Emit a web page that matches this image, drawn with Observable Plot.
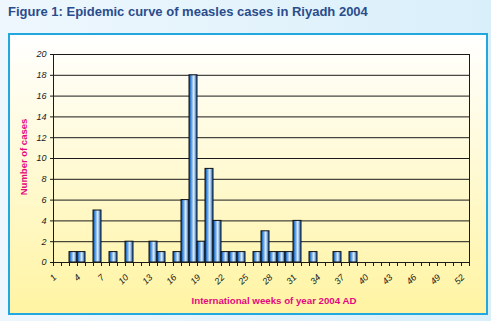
<!DOCTYPE html>
<html><head><meta charset="utf-8">
<script src="https://cdn.jsdelivr.net/npm/d3@7"></script>
<script src="https://cdn.jsdelivr.net/npm/@observablehq/plot@0.6"></script>
<style>
html,body{margin:0;padding:0;}
body{width:491px;height:321px;position:relative;overflow:hidden;background:linear-gradient(90deg,#eef7fd,#d9effa);font-family:"Liberation Sans",Arial,sans-serif;}
#title{position:absolute;left:8px;top:4px;font-size:13px;line-height:15px;font-weight:bold;color:#2b4c8c;white-space:nowrap;}
#frame{position:absolute;left:8px;top:33px;width:476px;height:278px;border:2px solid #22a8df;background:linear-gradient(180deg,#ffffff 0%,#fffbe0 35%,#fff4a2 100%);}
#chart{position:absolute;left:0;top:0;}
#ytitle{position:absolute;left:23px;top:157px;transform:translate(-50%,-50%) rotate(-90deg);font-size:9.5px;font-weight:bold;color:#e5087f;white-space:nowrap;}
#xtitle{position:absolute;left:274px;top:295px;transform:translateX(-50%);font-size:9.7px;line-height:11px;font-weight:bold;color:#e5087f;white-space:nowrap;}
</style>
</head><body>
<div id="title">Figure 1: Epidemic curve of measles cases in Riyadh 2004</div>
<div id="frame"></div>
<div id="chart"></div>
<div id="ytitle">Number of cases</div>
<div id="xtitle">International weeks of year 2004 AD</div>
<script>
const weeks = [3,4,6,8,10,13,14,16,17,18,19,20,21,22,23,24,26,27,28,29,30,31,33,36,38];
const cases = [1,1,5,1,2,2,1,1,6,18,2,9,4,1,1,1,1,3,1,1,1,4,1,1,1];
const xTickLabels = [1,4,7,10,13,16,19,22,25,28,31,34,37,40,43,46,49,52];
const yTicks = [0,2,4,6,8,10,12,14,16,18,20];
const weekBoundaries = d3.range(0.5, 53, 1);
const data = weeks.map((w, i) => ({week: w, cases: cases[i]}));

const chart = Plot.plot({
  width: 491, height: 321,
  marginLeft: 53, marginRight: 22, marginTop: 54, marginBottom: 59,
  style: {background: "transparent", fontFamily: "'Liberation Sans', Arial, sans-serif", fontSize: "9px", color: "#1a1a1a", overflow: "visible"},
  x: {type: "linear", domain: [0.5, 52.5]},
  y: {domain: [0, 20]},
  marks: [
    Plot.ruleY(yTicks, {stroke: "#1a1a1a", strokeWidth: 1}),
    Plot.rectY(data, {x1: d => d.week - 0.5, x2: d => d.week + 0.5, y: "cases", fill: "url(#barGrad)", stroke: "#111", strokeWidth: 1}),
    Plot.frame({stroke: "#1a1a1a"}),
    Plot.axisY({ticks: yTicks, tickSize: 3, tickPadding: 4, fontStyle: "italic", fontSize: 9, label: null}),
    Plot.axisX({ticks: weekBoundaries, tickSize: 4, tickFormat: () => "", label: null}),
    Plot.axisX({ticks: xTickLabels, tickSize: 0, tickPadding: 11, rotate: -45, textAnchor: "end", dx: -5, fontStyle: "italic", fontSize: 9, label: null})
  ]
});
const svg = d3.select(chart);
const grad = svg.insert("defs", ":first-child").append("linearGradient")
  .attr("id", "barGrad").attr("x1", "0").attr("x2", "1").attr("y1", "0").attr("y2", "0");
[[0, "#08448e"], [0.15, "#2773c8"], [0.35, "#74a9e2"], [0.6, "#e8f2fc"], [0.8, "#5f9bdb"], [1, "#1a5cb0"]]
  .forEach(([o, c]) => grad.append("stop").attr("offset", o).attr("stop-color", c));
document.getElementById("chart").appendChild(chart);
</script>
</body></html>
